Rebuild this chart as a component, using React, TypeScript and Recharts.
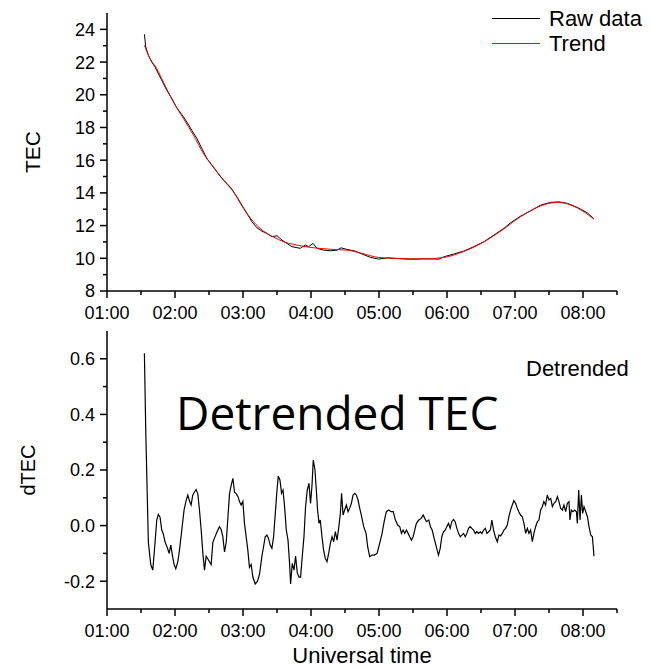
import { Legend, Line, LineChart, XAxis, YAxis } from 'recharts';

// time is UT minutes after 00:00
const rawTime = [
  93.0, 94.2, 96.5, 99.5, 102.4, 106.8, 112.8, 117.2, 121.6, 126.0,
  130.4, 134.8, 139.3, 143.7, 148.1, 152.5, 156.9, 161.4, 165.8, 170.2,
  174.6, 179.0, 183.4, 187.9, 192.3, 196.7, 201.1, 205.5, 210.0, 214.4,
  218.8, 223.2, 227.6, 230.5, 235.0, 237.9, 241.8, 245.3, 251.1, 257.1,
  263.0, 266.5, 271.8, 279.1, 285.1, 292.4, 299.7, 307.2, 316.0, 327.7,
  339.5, 352.8, 357.2, 366.0, 374.8, 383.7, 392.5, 401.4, 410.2, 416.1,
  425.0, 433.8, 442.6, 451.5, 458.8, 466.2, 475.0, 483.9, 489.7,
];
const rawTec = [
  23.7, 22.92, 22.41, 22.0, 21.7, 21.09, 20.27, 19.77, 19.2, 18.79,
  18.34, 17.83, 17.33, 16.71, 16.1, 15.69, 15.29, 14.88, 14.58, 14.23,
  13.76, 13.25, 12.75, 12.23, 11.87, 11.66, 11.52, 11.32, 11.38, 11.11,
  10.91, 10.71, 10.65, 10.61, 10.81, 10.71, 10.91, 10.61, 10.5, 10.46,
  10.5, 10.64, 10.54, 10.44, 10.26, 10.06, 9.95, 10.03, 9.99, 9.94,
  9.97, 9.95, 10.09, 10.26, 10.44, 10.71, 11.01, 11.42, 11.83, 12.17,
  12.58, 12.9, 13.25, 13.42, 13.45, 13.36, 13.11, 12.78, 12.4,
];

const trendTime = [
  93.0, 98.0, 103.9, 109.7, 118.6, 127.4, 136.3, 145.1, 153.9, 162.8,
  171.6, 180.4, 189.3, 198.1, 207.0, 215.8, 224.6, 233.5, 245.3, 257.1,
  271.8, 285.1, 299.7, 316.0, 339.5, 357.2, 374.8, 392.5, 410.2, 425.0,
  442.6, 451.5, 458.8, 466.2, 475.0, 489.7,
];
const trendTec = [
  23.02, 22.21, 21.6, 20.78, 19.56, 18.55, 17.53, 16.41, 15.59, 14.78,
  14.06, 13.05, 12.23, 11.66, 11.3, 11.01, 10.85, 10.73, 10.62, 10.55,
  10.5, 10.3, 10.05, 9.99, 9.96, 10.05, 10.42, 11.0, 11.8, 12.55,
  13.2, 13.38, 13.42, 13.33, 13.08, 12.4,
];

const dtecTime = [
  93.0, 94.2, 96.5, 98.6, 100.4, 102.4, 103.9, 105.3, 106.8, 108.3,
  109.7, 111.3, 113.3, 114.8, 116.3, 117.7, 119.2, 120.7, 122.5, 123.9,
  126.0, 128.0, 129.8, 131.3, 132.7, 134.2, 135.7, 137.1, 138.6, 140.1,
  141.6, 143.1, 144.6, 146.0, 147.5, 149.0, 150.4, 151.9, 153.4, 154.8,
  156.3, 157.8, 159.2, 160.7, 162.2, 163.7, 165.2, 166.7, 168.1, 169.6,
  171.1, 172.5, 174.0, 175.5, 176.9, 178.4, 179.9, 181.3, 182.8, 184.3,
  185.7, 187.2, 188.7, 190.8, 192.8, 194.6,
  196.7, 198.1, 199.6, 201.1, 202.5, 204.0, 205.5, 207.0, 208.5, 210.0,
  211.1, 212.6, 214.0, 215.3, 216.7, 218.2, 219.7, 221.1, 222.0, 223.5,
  225.0, 226.4, 227.9, 229.4, 230.8, 232.3, 233.8, 235.2, 236.7, 238.2,
  239.6, 240.9, 242.0, 243.5, 244.7, 245.8, 247.1, 248.2, 249.7, 251.1,
  252.6, 254.1, 255.6, 257.1, 258.6, 260.0, 261.5, 263.0, 264.4, 265.9,
  267.0, 268.3, 269.7, 271.2, 272.7, 274.1, 275.6, 277.1, 278.5, 280.0,
  281.5, 283.0, 284.4, 286.5, 288.6, 290.0, 291.8, 293.9, 295.9, 298.3,
  300.6,
  302.7, 304.8, 306.5, 308.6, 310.7, 312.5, 314.5, 316.5, 318.3, 319.8,
  321.3, 322.7, 324.2, 325.7, 327.1, 328.6, 330.1, 331.5, 333.0, 335.1,
  337.2, 339.0, 340.4, 341.9, 343.9, 345.4, 346.9, 348.3, 349.8, 351.3,
  352.5, 354.0, 355.4, 356.9, 358.4, 359.8, 361.3, 362.8, 364.2, 365.7,
  367.2, 368.7, 370.2, 371.7, 373.1, 374.6, 376.1, 377.5, 379.0, 380.5,
  381.9, 383.4, 384.9, 386.3, 387.8, 389.3, 390.8, 392.3, 393.8, 395.2,
  396.7, 398.2,
  399.6, 401.1, 402.6, 404.4, 405.8, 407.3, 408.8, 410.2, 411.7, 413.2,
  414.6, 416.1, 417.6, 419.0, 420.5, 422.0, 423.4, 424.9, 426.4, 427.9,
  429.4, 430.9, 432.3, 433.8, 435.3, 436.7, 438.2, 439.7, 441.1, 442.6,
  444.1, 445.5, 447.0, 448.5, 450.0, 451.5, 453.0, 454.4, 455.9, 457.4,
  458.8, 460.3, 461.8, 463.2, 464.7, 466.2, 467.6, 468.5, 469.7, 471.2,
  472.7, 474.2, 475.0, 476.2, 477.4, 478.6, 479.7, 480.9, 482.4, 483.9,
  485.3, 486.8, 488.3, 489.7,
];
const dtecValue = [
  0.62, 0.34, -0.06, -0.14, -0.16, -0.06, 0.02, 0.04, 0.03, -0.016,
  -0.03, -0.06, -0.08, -0.1, -0.07, -0.107, -0.14, -0.155, -0.13, -0.09,
  -0.016, 0.056, 0.09, 0.11, 0.09, 0.074, 0.11, 0.12, 0.13, 0.115,
  0.056, -0.016, -0.1, -0.16, -0.11, -0.12, -0.13, -0.14, -0.06, -0.045,
  -0.03, -0.016, -0.004, -0.014, -0.04, -0.095, -0.06, 0.03, 0.115, 0.146,
  0.17, 0.12, 0.115, 0.105, 0.087, 0.074, 0.087, 0.008, -0.04, -0.09,
  -0.15, -0.14, -0.185, -0.21, -0.2, -0.175,
  -0.11, -0.077, -0.04, -0.034, -0.046, -0.07, -0.082, -0.04, 0.044, 0.128,
  0.178, 0.164, 0.116, 0.128, 0.068, -0.016, -0.052, -0.136, -0.21, -0.136,
  -0.16, -0.11, -0.17, -0.185, -0.185, -0.11, -0.04, 0.068, 0.128, 0.152,
  0.08, 0.146, 0.236, 0.2, 0.128, 0.056, 0.008, 0.02, -0.04, -0.088,
  -0.118, -0.13, -0.1, -0.064, -0.04, -0.058, -0.022, -0.052, -0.01, 0.044,
  0.116, 0.038, 0.056, 0.074, 0.05, 0.062, 0.08, 0.11, 0.116, 0.11,
  0.092, 0.062, 0.038, -0.004, -0.028, -0.076, -0.112, -0.106, -0.106, -0.1,
  -0.064,
  -0.028, 0.02, 0.05, 0.056, 0.05, 0.05, 0.02, 0.002, -0.004, -0.028,
  -0.016, -0.028, -0.016, -0.028, -0.04, -0.052, -0.04, -0.016, 0.008, 0.02,
  0.026, 0.038, 0.026, 0.014, 0.02, -0.004, -0.016, -0.04, -0.064, -0.088,
  -0.106, -0.082, -0.04, -0.022, -0.016, -0.004, 0.008, -0.01, 0.014, 0.022,
  0.014, -0.01, -0.028, -0.04, -0.034, -0.028, -0.04, -0.028, -0.01, -0.004,
  -0.01, -0.016, -0.028, -0.022, -0.028, -0.022, -0.028, -0.016, -0.01, -0.028,
  -0.022, -0.016,
  0.02, -0.016, -0.04, -0.058, -0.034, -0.037, -0.028, -0.016, -0.01, 0.002,
  0.032, 0.056, 0.074, 0.09, 0.08, 0.062, 0.05, 0.038, 0.032, 0.008,
  -0.028, -0.01, -0.028, -0.016, -0.058, -0.028, -0.004, 0.014, 0.02, 0.056,
  0.068, 0.086, 0.074, 0.11, 0.092, 0.098, 0.068, 0.08, 0.086, 0.104,
  0.086, 0.062, 0.056, 0.074, 0.05, 0.08, 0.086, 0.02, 0.056, 0.05,
  0.056, 0.05, 0.008, 0.128, 0.02, 0.11, 0.044, 0.068, 0.05, 0.032,
  -0.004, -0.034, -0.04, -0.11,
];

// half-hour ticks, labels only on the hour
const timeTicks = [60, 90, 120, 150, 180, 210, 240, 270, 300, 330, 360, 390, 420, 450, 480, 510];
const tecTicks = [8, 9, 10, 11, 12, 13, 14, 15, 16, 17, 18, 19, 20, 21, 22, 23, 24];
const dtecTicks = [-0.2, -0.1, 0, 0.1, 0.2, 0.3, 0.4, 0.5, 0.6];

const FONT = '"Liberation Sans", Arial, Helvetica, sans-serif';
const AXIS = { stroke: '#000', strokeWidth: 1.5 };

const toPoints = (t: number[], v: number[]) => t.map((time, i) => ({ t: time, v: v[i] }));

const hourLabel = (m: number) => `${String(Math.floor(m / 60)).padStart(2, '0')}:00`;

function TimeTick({ x, y, payload }: any) {
  const major = payload.value % 60 === 0;
  return (
    <g>
      <line x1={x} y1={y} x2={x} y2={y + (major ? 7 : 4)} stroke="#000" strokeWidth={1.5} />
      {major && (
        <text x={x} y={y + 28} textAnchor="middle" fontSize={18} fontFamily={FONT} fill="#000">
          {hourLabel(payload.value)}
        </text>
      )}
    </g>
  );
}

function ValueTick({ x, y, payload, isMajor, fmt }: any) {
  const major = isMajor(payload.value);
  return (
    <g>
      <line x1={x - (major ? 7 : 4)} y1={y} x2={x} y2={y} stroke="#000" strokeWidth={1.5} />
      {major && (
        <text x={x - 12} y={y} dy="0.36em" textAnchor="end" fontSize={18} fontFamily={FONT} fill="#000">
          {fmt(payload.value)}
        </text>
      )}
    </g>
  );
}

function SideTitle({ viewBox, text, gap, size }: any) {
  const cx = viewBox.x - gap;
  const cy = viewBox.y + viewBox.height / 2;
  return (
    <text
      x={cx}
      y={cy}
      transform={`rotate(-90 ${cx} ${cy})`}
      textAnchor="middle"
      dominantBaseline="central"
      fontSize={size}
      fontFamily={FONT}
      fill="#000"
    >
      {text}
    </text>
  );
}

function SeriesKey({ payload }: any) {
  return (
    <div style={{ fontFamily: FONT, fontSize: 22, lineHeight: '25px', color: '#000' }}>
      {(payload || []).map((p: any) => (
        <div key={p.value} style={{ display: 'flex', alignItems: 'center' }}>
          <span style={{ width: 48, borderTop: `1px solid ${p.color}`, marginRight: 9 }} />
          {p.value}
        </div>
      ))}
    </div>
  );
}

function NameOnly({ payload }: any) {
  return (
    <div style={{ fontFamily: FONT, fontSize: 22, lineHeight: '25px', color: '#000' }}>
      {(payload || []).map((p: any) => (
        <div key={p.value}>{p.value}</div>
      ))}
    </div>
  );
}

export default function App() {
  const raw = toPoints(rawTime, rawTec);
  const trend = toPoints(trendTime, trendTec);
  const dtec = toPoints(dtecTime, dtecValue);

  return (
    <div style={{ position: 'absolute', left: 0, top: 0, width: 650, height: 670, background: '#fff', fontFamily: FONT }}>
      <div style={{ position: 'absolute', left: 0, top: 0 }}>
        <LineChart width={650} height={326} margin={{ top: 13, right: 33, bottom: 0, left: 47 }}>
          <XAxis
            dataKey="t"
            type="number"
            domain={[60, 510]}
            ticks={timeTicks}
            interval={0}
            tickSize={0}
            tickMargin={0}
            tickLine={false}
            tick={<TimeTick />}
            axisLine={AXIS}
            height={35}
            allowDataOverflow
          />
          <YAxis
            type="number"
            domain={[8, 25]}
            ticks={tecTicks}
            interval={0}
            tickSize={0}
            tickMargin={0}
            tickLine={false}
            tick={<ValueTick isMajor={(v: number) => v % 2 === 0} fmt={(v: number) => String(v)} />}
            axisLine={AXIS}
            width={60}
            allowDataOverflow
            label={<SideTitle text="TEC" gap={15} size={21} />}
          />
          <Legend
            layout="vertical"
            align="center"
            verticalAlign="middle"
            wrapperStyle={{ left: 492, top: 6 }}
            content={<SeriesKey />}
          />
          <Line
            data={raw}
            dataKey="v"
            name="Raw data"
            type="linear"
            stroke="#000"
            strokeWidth={1}
            dot={false}
            isAnimationActive={false}
          />
          <Line
            data={trend}
            dataKey="v"
            name="Trend"
            type="monotone"
            stroke="#ff0000"
            strokeWidth={1}
            dot={false}
            isAnimationActive={false}
          />
        </LineChart>
      </div>

      <div style={{ position: 'absolute', left: 0, top: 326 }}>
        <LineChart width={650} height={344} margin={{ top: 5, right: 33, bottom: 0, left: 47 }}>
          <XAxis
            dataKey="t"
            type="number"
            domain={[60, 510]}
            ticks={timeTicks}
            interval={0}
            tickSize={0}
            tickMargin={0}
            tickLine={false}
            tick={<TimeTick />}
            axisLine={AXIS}
            height={61}
            allowDataOverflow
            label={{
              value: 'Universal time',
              position: 'insideBottom',
              offset: 7,
              fill: '#000',
              fontSize: 22,
              fontFamily: FONT,
            }}
          />
          <YAxis
            type="number"
            domain={[-0.3, 0.7]}
            ticks={dtecTicks}
            interval={0}
            tickSize={0}
            tickMargin={0}
            tickLine={false}
            tick={
              <ValueTick
                isMajor={(v: number) => Math.round(v * 10) % 2 === 0}
                fmt={(v: number) => v.toFixed(1)}
              />
            }
            axisLine={AXIS}
            width={60}
            allowDataOverflow
            label={<SideTitle text="dTEC" gap={19} size={20} />}
          />
          <Legend
            layout="vertical"
            align="center"
            verticalAlign="middle"
            wrapperStyle={{ left: 526, top: 30 }}
            content={<NameOnly />}
          />
          <Line
            data={dtec}
            dataKey="v"
            name="Detrended"
            type="linear"
            stroke="#000"
            strokeWidth={1.2}
            dot={false}
            isAnimationActive={false}
          />
        </LineChart>
      </div>

      <svg width={650} height={670} style={{ position: 'absolute', left: 0, top: 0, pointerEvents: 'none' }}>
        <text x={176} y={430} fontFamily='"Open Sans", "Noto Sans", sans-serif' fontSize={46} fill="#000">
          Detrended TEC
        </text>
      </svg>
    </div>
  );
}
